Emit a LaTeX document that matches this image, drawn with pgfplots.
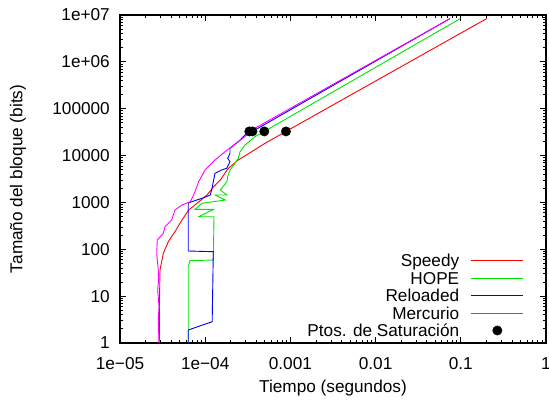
\documentclass[border=0pt]{standalone}
\usepackage{fontspec}
\setmainfont{Liberation Sans}
\usepackage{pgfplots}
\pgfplotsset{compat=1.18}
\definecolor{gpred}{rgb}{1,0,0}
\definecolor{gpgreen}{rgb}{0,0.9,0}
\definecolor{gpblue}{rgb}{0,0,1}
\definecolor{gpmag}{rgb}{1,0,1}
\newcommand{\lf}{\fontsize{17.2bp}{20bp}\selectfont}
\begin{document}
\begin{tikzpicture}
\begin{loglogaxis}[
  width=426bp, height=328bp, scale only axis,
  xmin=1e-5, xmax=1, ymin=1, ymax=1e7,
  axis line style={line width=1.6bp},
  every tick/.style={black, line width=0.8bp},
  major tick length=6bp, minor tick length=3bp,
  xtick={1e-5,1e-4,1e-3,1e-2,1e-1,1},
  xticklabels={1e−05,1e−04,0.001,0.01,0.1,1},
  ytick={1,10,100,1000,10000,100000,1e6,1e7},
  yticklabels={1,10,100,1000,10000,100000,1e+06,1e+07},
  tick label style={font=\lf, inner sep=0pt},
  xticklabel style={anchor=north, yshift=-14bp},
  yticklabel style={anchor=east, xshift=-10bp},
  label style={font=\lf},
  xlabel={Tiempo (segundos)},
  ylabel={Tamaño del bloque (bits)},
  xlabel style={at={(axis description cs:0.5,-0.137)}, anchor=center},
  ylabel style={at={(axis description cs:-0.2394,0.5)}, anchor=center},
  legend cell align=right, legend plot pos=right,
  legend style={draw=none, fill=none, at={(1,0)}, anchor=south east,
    xshift=-22bp, yshift=6.1bp, inner sep=0pt, row sep=5.1bp, column sep=11.7bp,
    font=\lf, nodes={inner sep=0pt, text height=12.4bp, text depth=0pt}},
  legend image code/.code={\draw[#1] (0bp,0bp) -- (52bp,0bp); \path[#1] plot coordinates {(26bp,0bp)};},
]
% Speedy
\addplot[gpred, line width=0.9bp, mark=none] coordinates {
(2.892e-5,1) (2.908e-5,8.27) (2.948e-5,36.1) (3.224e-5,82.1) (3.688e-5,145.1)
(4.42e-5,237.3) (5.34e-5,421.6) (6.40e-5,689) (8.01e-5,958) (1.05e-4,1440)
(1.258e-4,2165) (1.503e-4,3009) (1.867e-4,5346) (2.445e-4,8040) (3.513e-4,12090)
(5.03e-4,18260) (8.87e-4,32768) (0.2014,8388608)};
\addlegendentry{Speedy}
% HOPE
\addplot[gpgreen, line width=0.9bp, mark=none] coordinates {
(6.33e-5,1) (6.33e-5,42.5) (6.63e-5,57.1) (1.245e-4,59.0) (1.269e-4,495.7)
(8.39e-5,495.7) (1.258e-4,713.3) (7.59e-5,713.3) (9.17e-5,957.6) (1.721e-4,1126)
(1.311e-4,1440) (1.803e-4,1440) (1.503e-4,1841) (1.803e-4,2768) (1.837e-4,3539)
(1.955e-4,4918) (2.238e-4,6835) (2.445e-4,8741) (2.561e-4,12090) (2.932e-4,16800)
(3.84e-4,25270) (4.94e-4,32768) (0.0987,8388608)};
\addlegendentry{HOPE}
% Reloaded
\addplot[gpblue, line width=0.9bp, mark=none] coordinates {
(6.33e-5,1) (6.33e-5,1.894) (1.208e-4,2.848) (1.245e-4,88.8) (6.33e-5,91.9)
(6.33e-5,957.6) (6.40e-5,986) (9.17e-5,1224) (1.148e-4,1440) (1.202e-4,2001)
(1.303e-4,4182) (1.561e-4,4918) (1.788e-4,5346) (1.955e-4,7396) (1.837e-4,8741)
(1.955e-4,11170) (1.955e-4,14290) (2.445e-4,19760) (2.932e-4,27460) (3.59e-4,32768)
(0.0747,8388608)};
\addlegendentry{Reloaded}
% Mercurio
\addplot[gpmag, line width=0.9bp, mark=none] coordinates {
(2.869e-5,1) (2.815e-5,3.10) (2.87e-5,6) (2.77e-5,13.5) (2.84e-5,22) (2.815e-5,36.1)
(2.697e-5,82.1) (2.741e-5,157.8) (3.224e-5,219.3) (3.376e-5,303.3) (4.044e-5,421.6)
(4.42e-5,689) (5.34e-5,881) (6.68e-5,1036) (7.33e-5,1440) (8.39e-5,2768)
(9.95e-5,4918) (1.303e-4,8040) (1.708e-4,12090) (2.445e-4,19760) (3.07e-4,27460)
(3.294e-4,32768) (0.0747,8388608)};
\addlegendentry{Mercurio}
% Saturation points
\addplot[only marks, mark=*, mark size=4.7bp, black, draw opacity=0,
  mark options={draw opacity=1}]
  coordinates {(3.294e-4,32768) (3.59e-4,32768) (4.94e-4,32768) (8.87e-4,32768)};
\addlegendentry{Ptos. de Saturación}
\end{loglogaxis}
\pgfresetboundingbox
\path[use as bounding box] ([shift={(-120bp,-58bp)}]current axis.south west) rectangle ([shift={(3bp,15bp)}]current axis.north east);
\end{tikzpicture}
\end{document}
